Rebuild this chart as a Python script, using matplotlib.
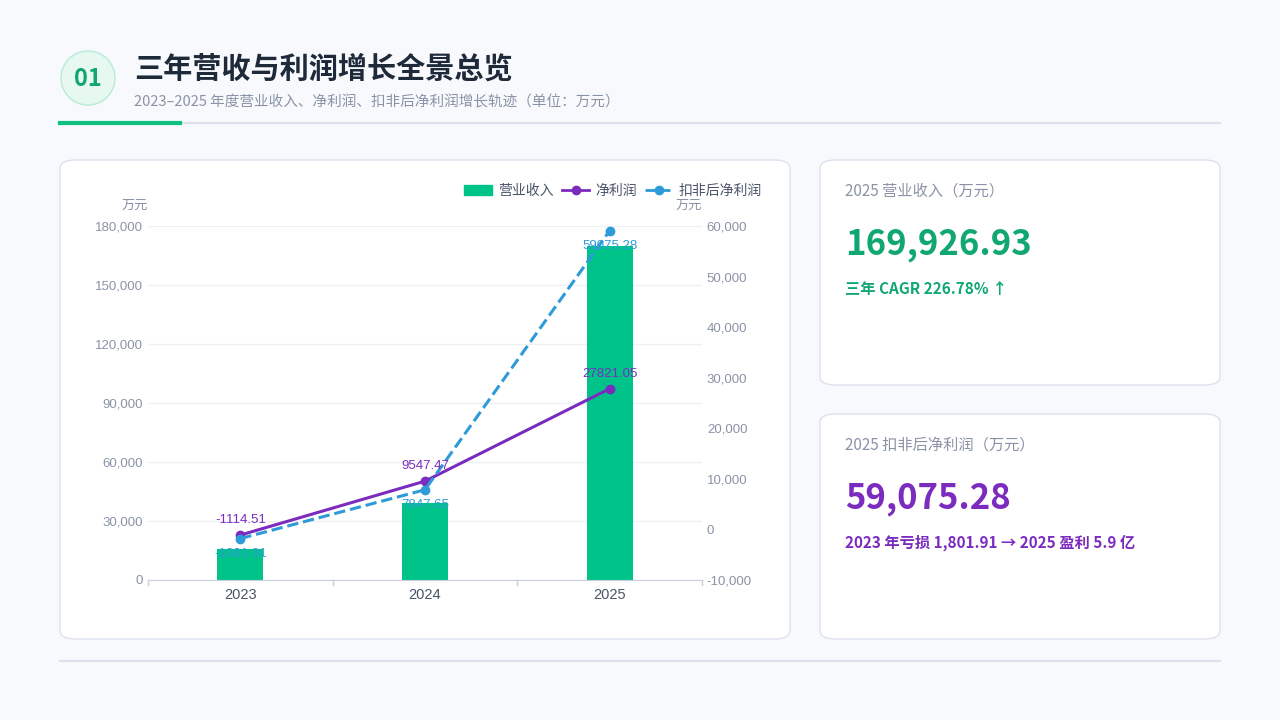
import matplotlib.pyplot as plt
from matplotlib.patches import FancyBboxPatch, Ellipse
from matplotlib.lines import Line2D
from matplotlib.ticker import FuncFormatter

plt.rcParams['font.family'] = ['Noto Sans CJK SC', 'DejaVu Sans']

years = ['2023', '2024', '2025']
revenue = [15912.0, 39150.0, 169926.93]
net_profit = [-1114.51, 9547.47, 27821.05]
deducted = [-1801.91, 7847.65, 59075.28]

W, H = 1280, 720
fig = plt.figure(figsize=(12.8, 7.2), dpi=100)
fig.patch.set_facecolor('#f7f9fc')

def px(x, y):
    return x / W, 1 - y / H

def card(x0, y0, x1, y1):
    fig.patches.append(FancyBboxPatch(px(x0, y1), (x1 - x0) / W, (y1 - y0) / H,
                                      boxstyle='round,pad=0,rounding_size=0.012',
                                      transform=fig.transFigure, facecolor='white',
                                      edgecolor='#dde1ee', linewidth=1, zorder=0))

# header
fig.patches.append(Ellipse(px(88, 78), 54 / W, 54 / H, transform=fig.transFigure,
                           facecolor='#e6f8f0', edgecolor='#b8ebd5', linewidth=1))
fig.text(*px(88, 79), '01', ha='center', va='center', fontsize=17, fontweight='bold', color='#10a870')
fig.text(*px(134, 69), '三年营收与利润增长全景总览', ha='left', va='center', fontsize=21,
         fontweight='bold', color='#1e2a3a')
fig.text(*px(134, 102), '2023–2025 年度营业收入、净利润、扣非后净利润增长轨迹（单位：万元）',
         ha='left', va='center', fontsize=10.5, color='#8a93a6')
fig.add_artist(Line2D([60 / W, 1220 / W], [1 - 123 / H] * 2, color='#dde1ee', lw=1.5))
fig.add_artist(Line2D([60 / W, 180 / W], [1 - 123 / H] * 2, color='#10c080', lw=3))
fig.add_artist(Line2D([60 / W, 1220 / W], [1 - 661 / H] * 2, color='#dde1ee', lw=1.5))

card(60, 160, 790, 639)
card(820, 160, 1220, 385)
card(820, 414, 1220, 639)

num_font = ['Liberation Sans', 'DejaVu Sans']

# chart
ax = fig.add_axes([148 / W, 1 - 580 / H, (702 - 148) / W, (580 - 226) / H])
ax.set_zorder(5)
ax.set_facecolor('none')
x = range(len(years))
ax.bar(x, revenue, width=0.25, color='#00c389', zorder=2)
ax.set_ylim(0, 180000)
ax.set_xlim(-0.5, 2.5)
ax.set_yticks(range(0, 180001, 30000))
ax.yaxis.set_major_formatter(FuncFormatter(lambda v, p: f'{int(v):,}'))
ax.set_xticks(list(x))
ax.set_xticklabels(years, fontsize=10.5, color='#4a5468', family=num_font)
ax.tick_params(axis='y', colors='#8a93a6', labelsize=9.5, length=0)
ax.tick_params(axis='x', length=0, pad=6)
for lab in ax.get_yticklabels():
    lab.set_family(num_font)
ax.grid(axis='y', color='#eef0f5', lw=1, zorder=0)
for s in ['top', 'right', 'left']:
    ax.spines[s].set_visible(False)
ax.spines['bottom'].set_color('#c9cde0')
for b in [-0.5, 0.5, 1.5, 2.5]:
    ax.plot([b, b], [0, -2500], color='#c9cde0', lw=1, clip_on=False)
ax.text(0.0, 1.04, '万元', transform=ax.transAxes, ha='right', va='bottom', fontsize=9.5, color='#8a93a6')

ax2 = ax.twinx()
ax2.set_zorder(6)
ax2.set_ylim(-10000, 60000)
ax2.set_yticks(range(-10000, 60001, 10000))
ax2.yaxis.set_major_formatter(FuncFormatter(lambda v, p: f'{int(v):,}'))
ax2.tick_params(axis='y', colors='#8a93a6', labelsize=9.5, length=0)
for lab in ax2.get_yticklabels():
    lab.set_family(num_font)
for s in ['top', 'right', 'left', 'bottom']:
    ax2.spines[s].set_visible(False)
ax2.text(1, 1.04, '万元', transform=ax2.transAxes, ha='right', va='bottom', fontsize=9.5, color='#8a93a6')

ax2.plot(x, net_profit, color='#7b2cbf', lw=2.2, marker='o', ms=6, zorder=4)
ax2.plot(x, deducted, color='#2e9bd8', lw=2.2, ls='--', marker='o', ms=6, zorder=4)
for i, v in enumerate(net_profit):
    ax2.text(i, v + 1800, f'{v}', ha='center', va='bottom', fontsize=9.5, color='#7b2cbf', zorder=5,
             family=num_font)
for i, v in enumerate(deducted):
    ax2.text(i, v - 1800, f'{v}', ha='center', va='top', fontsize=9.5, color='#2e9bd8', zorder=5,
             family=num_font)

handles = [plt.Rectangle((0, 0), 1, 1, color='#00c389'),
           Line2D([], [], color='#7b2cbf', lw=2, marker='o'),
           Line2D([], [], color='#2e9bd8', lw=2, ls='--', marker='o')]
leg = fig.legend(handles, ['营业收入', '净利润', '扣非后净利润'], loc='center right',
                 bbox_to_anchor=(774 / W, 1 - 191 / H), ncol=3, frameon=False, fontsize=10,
                 labelcolor='#4a5468', handlelength=2.0, columnspacing=0.6, handletextpad=0.4)
leg.set_zorder(10)

# KPI cards
fig.text(*px(845, 191), '2025 营业收入（万元）', ha='left', va='center', fontsize=11, color='#8a93a6')
fig.text(*px(845, 244), '169,926.93', ha='left', va='center', fontsize=25, fontweight='bold', color='#10a870')
fig.text(*px(845, 289), '三年 CAGR 226.78% ↑', ha='left', va='center', fontsize=11, fontweight='bold', color='#10a870')
fig.text(*px(845, 445), '2025 扣非后净利润（万元）', ha='left', va='center', fontsize=11, color='#8a93a6')
fig.text(*px(845, 498), '59,075.28', ha='left', va='center', fontsize=25, fontweight='bold', color='#7b2cbf')
fig.text(*px(845, 543), '2023 年亏损 1,801.91 → 2025 盈利 5.9 亿', ha='left', va='center', fontsize=11,
         fontweight='bold', color='#7b2cbf')

fig.savefig('out.png', dpi=100, facecolor=fig.get_facecolor())
